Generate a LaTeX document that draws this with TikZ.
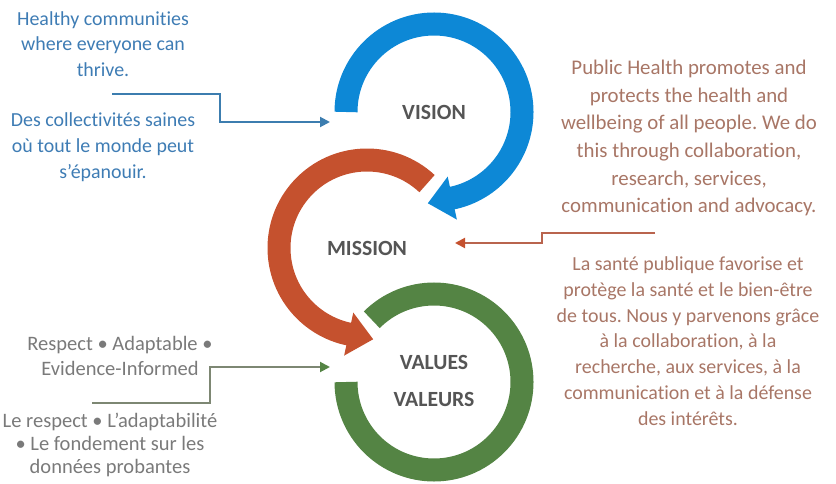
\documentclass[tikz,border=0pt]{standalone}
\usepackage{fontspec}
\setmainfont{Carlito}[Ligatures=NoCommon]
\usetikzlibrary{arrows.meta,calc}

\definecolor{visionblue}{RGB}{13,136,214}
\definecolor{missionred}{RGB}{197,81,46}
\definecolor{valuesgreen}{RGB}{84,132,68}
\definecolor{ringgray}{RGB}{85,85,85}
\definecolor{bluetext}{RGB}{62,124,180}
\definecolor{redtext}{RGB}{168,118,102}
\definecolor{graytext}{RGB}{122,122,122}
\definecolor{blueline}{RGB}{60,125,175}
\definecolor{redline}{RGB}{185,100,78}
\definecolor{greenline}{RGB}{125,135,115}

\frenchspacing
\begin{document}
\begin{tikzpicture}[x=0.3mm,y=0.3mm,
  ring/.style={line width=6.9mm},
  ringtext/.style={font=\bfseries\fontsize{18.5}{32}\selectfont, text=ringgray, align=center},
  sidetext/.style={align=center, font=\fontsize{17}{22}\selectfont},
  link/.style={line width=0.6mm, -{Triangle[length=3mm,width=3mm]}}
]
\useasboundingbox (0,0) rectangle (836,483);

% ring centres
\coordinate (vc) at (434,371);
\coordinate (mc) at (367,235);
\coordinate (gc) at (434,101);

% vision ring, clockwise with head
\draw[ring, visionblue] ($(vc)+(180:88)$) arc[start angle=180, end angle=-79, radius=88];
\fill[visionblue] ($(vc)+(-78:66)$) -- ($(vc)+(-78:110)$) -- ($(vc)+(-78:88)+(-168:25)$) -- cycle;

% mission ring, counter-clockwise with head
\draw[ring, missionred] ($(mc)+(47:88)$) arc[start angle=47, end angle=259, radius=88];
\fill[missionred] ($(mc)+(258:66)$) -- ($(mc)+(258:110)$) -- ($(mc)+(258:88)+(348:25)$) -- cycle;

% values ring
\draw[ring, valuesgreen] ($(gc)+(135:88)$) arc[start angle=135, end angle=-180, radius=88];

\node[ringtext] (vision) at (vc) {VISION};
\node[ringtext] (mission) at (mc) {MISSION};
\node[ringtext] (values) at ($(gc)+(0,1)$) {VALUES\\VALEURS};

% texts around
\node[sidetext, text=bluetext] (vis_en) at (103,439) {Healthy communities\\where everyone can\\thrive.};
\node[sidetext, text=bluetext] (vis_fr) at (103,336) {Des collectivités saines\\où tout le monde peut\\s’épanouir.};
\node[sidetext, text=redtext, font=\fontsize{17.8}{23.6}\selectfont] (mis_en) at (689,345)
  {Public Health promotes and\\protects the health and\\wellbeing of all people. We do\\this through collaboration,\\research, services,\\communication and advocacy.};
\node[sidetext, text=redtext] (mis_fr) at (688,142)
  {La santé publique favorise et\\protège la santé et le bien-être\\de tous. Nous y parvenons grâce\\à la collaboration, à la\\recherche, aux services, à la\\communication et à la défense\\des intérêts.};
\node[sidetext, text=graytext, font=\fontsize{17.5}{22}\selectfont] (val_en) at (120,127) {Respect • Adaptable •\\Evidence-Informed};
\node[sidetext, text=graytext, font=\fontsize{17.5}{19.5}\selectfont] (val_fr) at (110,38)
  {Le respect • L’adaptabilité\\• Le fondement sur les\\données probantes};

% connectors
\coordinate (vfrom) at (112,389);
\coordinate (vto) at (330,361);
\coordinate (mfrom) at (655,250);
\coordinate (mto) at (455,240);
\coordinate (gfrom) at (92,80);
\coordinate (gto) at (330,116);

\draw[link, blueline] (vfrom) -- ++(108,0) |- (vto);
\draw[link, redline, -{Triangle[length=3mm,width=3mm,color=missionred]}] (mfrom) -- ++(-113,0) |- (mto);
\draw[link, greenline, -{Triangle[length=3mm,width=3mm,color=valuesgreen]}] (gfrom) -- ++(118,0) |- (gto);
\end{tikzpicture}
\end{document}
